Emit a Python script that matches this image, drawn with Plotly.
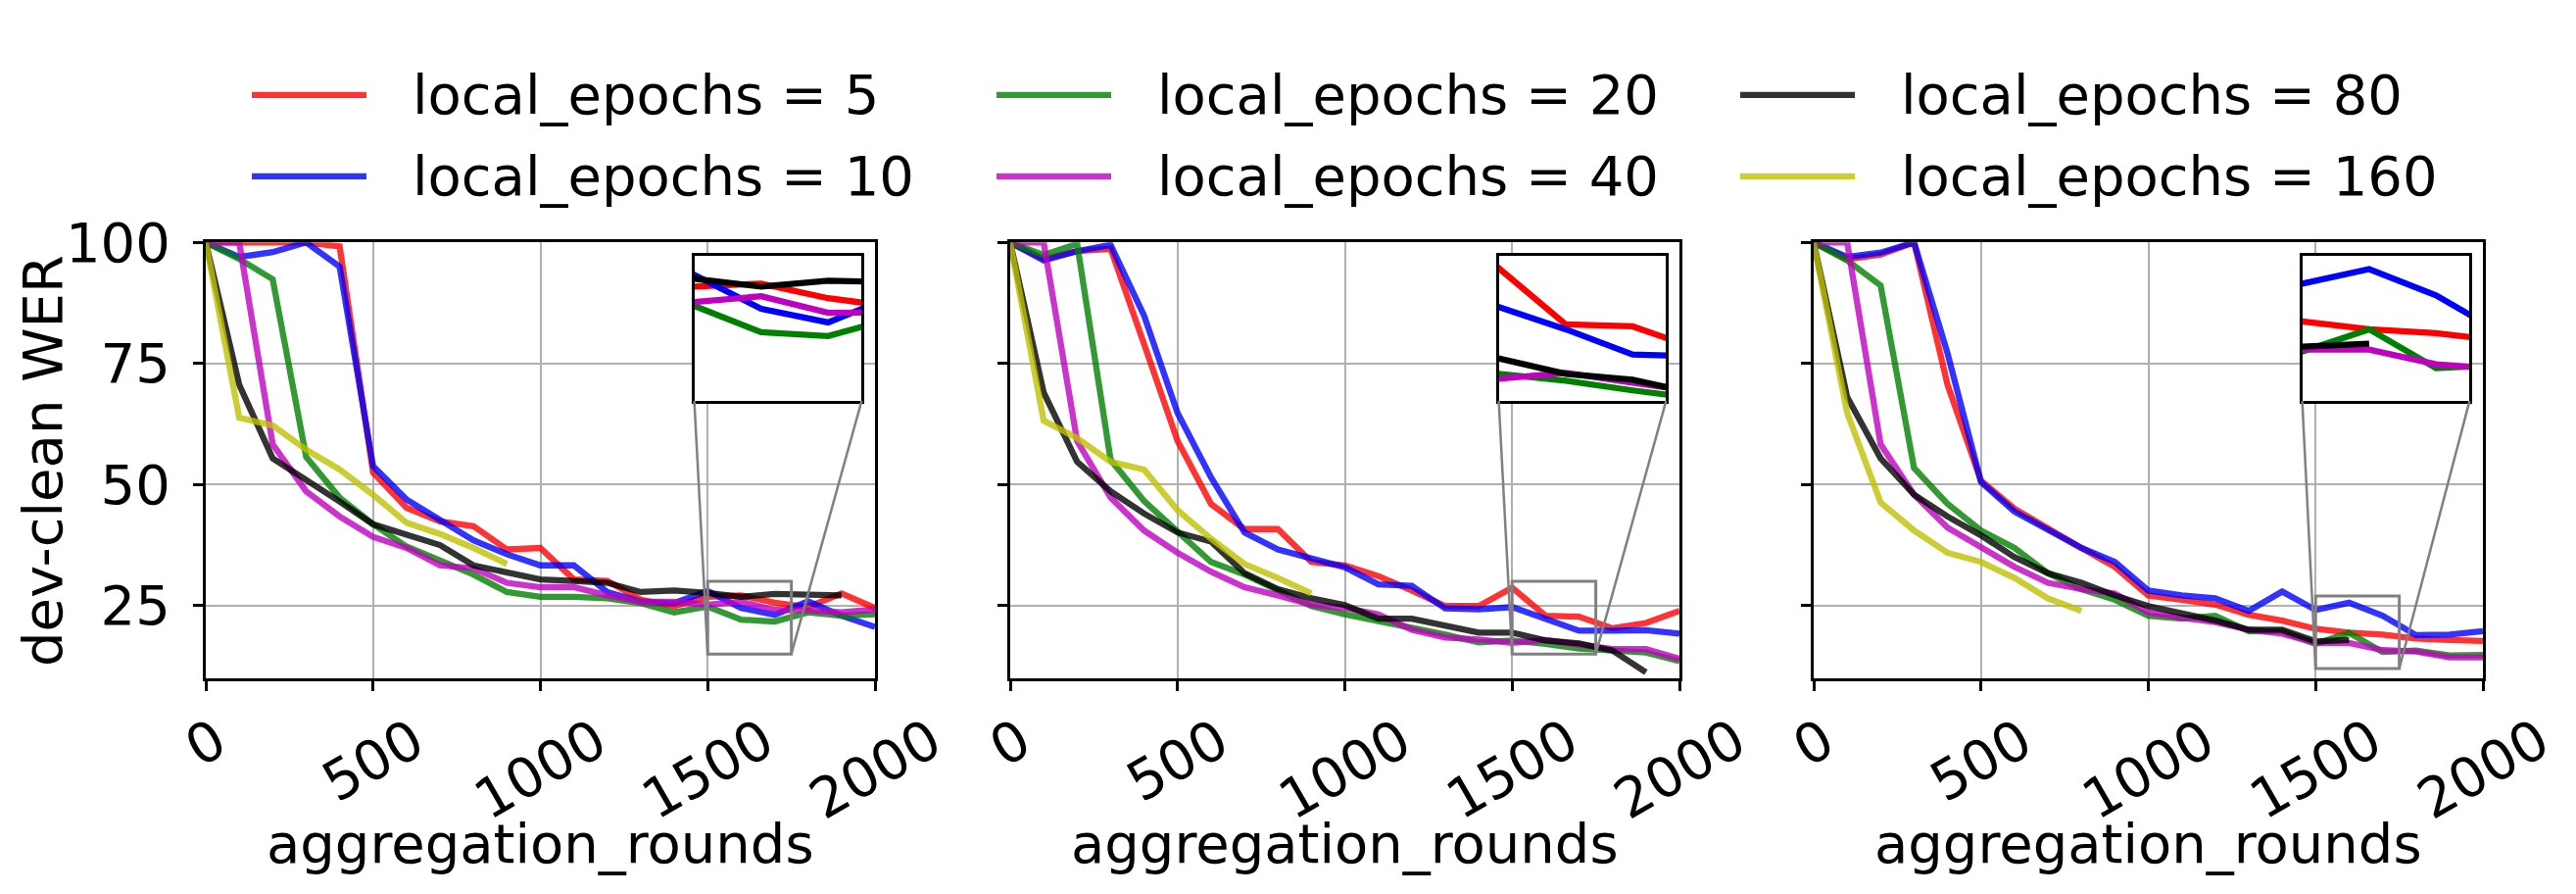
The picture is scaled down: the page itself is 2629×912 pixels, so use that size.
import plotly.graph_objects as go

# aggregation rounds, one point every 100 rounds
ROUNDS = list(range(0, 2001, 100))
EPOCHS = [5, 10, 20, 40, 80, 160]
RGB = ['255,0,0', '0,0,255', '0,128,0', '191,0,191', '0,0,0', '191,191,0']

# left panel
p1_e5 = [100, 100, 100, 100, 99.2, 52.5, 45.2, 42.4, 41.4, 36.6, 36.9, 30.4, 30.1, 26.2, 24.9, 26.8, 27.1, 25.6, 24.7, 27.5, 24.5]
p1_e10 = [100, 97, 98, 100, 95, 53.8, 46.9, 42.7, 38.5, 35.6, 33.3, 33.3, 27.8, 25.8, 25.5, 28.0, 24.5, 23.1, 25.9, 22.9, 20.6]
p1_e20 = [100, 96.6, 92.4, 55.7, 47.3, 41.8, 37.2, 34.3, 31.4, 27.8, 26.8, 26.8, 26.5, 25.5, 23.6, 24.8, 22.1, 21.7, 23.6, 22.9, 23.2]
p1_e40 = [100, 100, 58.3, 48.6, 43.4, 39.2, 36.9, 33.3, 32.7, 29.7, 28.8, 28.8, 27.1, 25.8, 25.8, 25.2, 25.8, 24.1, 24.0, 23.6, 24.2]
p1_e80 = [100, 70.6, 55.4, 51.0, 46.5, 41.8, 39.8, 37.5, 33.3, 31.7, 30.4, 30.1, 29.7, 27.8, 28.1, 27.6, 26.8, 27.4, 27.2, 27.1]
p1_e160 = [100, 63.8, 62.2, 57.2, 53.1, 47.9, 42.1, 39.8, 36.9, 33.6]

# middle panel
p2_e5 = [100, 96.6, 98.2, 98.7, 79, 59, 46, 40.8, 40.8, 34, 33.3, 31.1, 28.1, 24.9, 24.9, 28.7, 22.9, 22.7, 20.3, 21.4, 23.9]
p2_e10 = [100, 96.3, 98.2, 99.5, 84.9, 64.8, 51.5, 40.1, 36.6, 34.9, 32.9, 29.4, 29.1, 24.4, 24.2, 24.7, 22.4, 19.8, 19.8, 19.9, 19.2]
p2_e20 = [100, 97.4, 99.7, 55.1, 46.6, 40.1, 34, 31.4, 28.1, 24.9, 23.2, 21.9, 20.6, 19, 17.4, 17.8, 17.1, 16.1, 15.7, 15.3, 13.5]
p2_e40 = [100, 100, 59, 47.3, 40.5, 35.9, 32, 28.8, 27.1, 25.2, 24.5, 23.2, 20, 18.4, 18, 17.3, 17.9, 16.9, 16.0, 16, 14]
p2_e80 = [100, 69, 54.7, 48.6, 44, 40.1, 38.2, 31.7, 28.4, 26.5, 25.1, 22.3, 22.3, 21, 19.4, 19.4, 17.8, 17.2, 15.7, 11.2]
p2_e160 = [100, 63.2, 59.6, 54.7, 53.1, 44.7, 38.8, 33.6, 30.7, 27.5]

# right panel
p3_e5 = [100, 96.5, 97.5, 100, 70.6, 50.8, 45, 40.8, 36.9, 33, 27.1, 26.2, 25.2, 23.1, 21.9, 20.2, 19.4, 19, 18.2, 17.9, 17.7]
p3_e10 = [100, 97, 97.9, 100, 77.1, 50.5, 44.4, 40.5, 36.9, 34, 28.1, 27.1, 26.5, 23.9, 27.9, 24.1, 25.6, 22.9, 18.9, 19, 19.7]
p3_e20 = [100, 96.3, 91.1, 53.4, 46, 40.5, 36.9, 31.7, 28.4, 26.2, 22.9, 22.3, 22.9, 19.7, 19.7, 17.1, 19.4, 15.4, 15.7, 14.7, 14.8]
p3_e40 = [100, 100, 58.3, 47.9, 41.1, 36.9, 33, 29.7, 28.4, 27.5, 23.6, 22.5, 21.6, 20, 19.2, 17.3, 17.3, 15.8, 15.5, 14.3, 14.3]
p3_e80 = [100, 68.1, 55.4, 47.9, 43.4, 39.5, 35, 31.7, 29.7, 27.1, 24.9, 23.4, 21.9, 20, 20, 17.6, 17.9]
p3_e160 = [100, 64.8, 46.3, 40.5, 35.9, 34, 30.7, 26.5, 23.9]

panels = [
    [p1_e5, p1_e10, p1_e20, p1_e40, p1_e80, p1_e160],
    [p2_e5, p2_e10, p2_e20, p2_e40, p2_e80, p2_e160],
    [p3_e5, p3_e10, p3_e20, p3_e40, p3_e80, p3_e160],
]

X_TICKS = [0, 500, 1000, 1500, 2000]
Y_TICKS = [25, 50, 75, 100]
X_RANGE = [0, 2000]
Y_RANGE = [10, 100]
# zoomed region shown in each inset
ZOOM_X = [[1500, 1750], [1500, 1750], [1500, 1750]]
ZOOM_Y = [[15, 30], [15, 30], [12, 27]]

# the page body has an 8px margin all round; size the figure so the
# page fits the 2629x912 window exactly
OFF = 8
W, H = 2629 - 2 * OFF, 912 - 2 * OFF
FONT = "DejaVu Sans"
FS = 56
# target pixel positions in the 2629x912 window
PANEL_X = [(210, 893), (1031, 1714), (1851, 2534)]
PANEL_Y = (223, 684)
INSET_FX = (0.73, 0.98)
INSET_FY = (0.636, 0.97)
LW = 6.3


def px(x):
    return (x - OFF) / W


def py(y):
    return (H - (y - OFF)) / H


fig = go.Figure()
layout = dict(
    width=W, height=H,
    margin=dict(l=0, r=0, t=0, b=0),
    paper_bgcolor="white", plot_bgcolor="white",
    font=dict(family=FONT, size=FS, color="black"),
    showlegend=False,
)
shapes = []
annotations = []

y_dom = [py(PANEL_Y[1]), py(PANEL_Y[0])]

for p, series in enumerate(panels):
    n = p + 1
    m = p + 4
    sx = "" if n == 1 else str(n)
    x_dom = [px(PANEL_X[p][0]), px(PANEL_X[p][1])]
    wx = x_dom[1] - x_dom[0]
    wy = y_dom[1] - y_dom[0]

    layout["xaxis" + sx] = dict(
        domain=x_dom, range=X_RANGE, anchor="y" + sx,
        tickvals=X_TICKS, showticklabels=False,
        ticks="outside", ticklen=10, tickwidth=2.5, tickcolor="black",
        showline=True, mirror=True, linecolor="black", linewidth=3,
        showgrid=True, gridcolor="#b0b0b0", gridwidth=2, zeroline=False,
    )
    layout["yaxis" + sx] = dict(
        domain=y_dom, range=Y_RANGE, anchor="x" + sx,
        tickvals=Y_TICKS, showticklabels=(n == 1),
        ticks="outside", ticklen=10, tickwidth=2.5, tickcolor="black",
        ticklabelstandoff=12,
        showline=True, mirror=True, linecolor="black", linewidth=3,
        showgrid=True, gridcolor="#b0b0b0", gridwidth=2, zeroline=False,
    )
    layout["xaxis" + str(m)] = dict(
        domain=[x_dom[0] + wx * INSET_FX[0], x_dom[0] + wx * INSET_FX[1]],
        range=ZOOM_X[p], anchor="y" + str(m),
        showticklabels=False, ticks="", showgrid=False, zeroline=False,
        showline=True, mirror=True, linecolor="black", linewidth=3,
    )
    layout["yaxis" + str(m)] = dict(
        domain=[y_dom[0] + wy * INSET_FY[0], y_dom[0] + wy * INSET_FY[1]],
        range=ZOOM_Y[p], anchor="x" + str(m),
        showticklabels=False, ticks="", showgrid=False, zeroline=False,
        showline=True, mirror=True, linecolor="black", linewidth=3,
    )

    for vals, rgb in zip(series, RGB):
        fig.add_trace(go.Scatter(
            x=ROUNDS[:len(vals)], y=vals, mode="lines",
            line=dict(color="rgba(%s,0.8)" % rgb, width=LW),
            xaxis="x" + sx, yaxis="y" + sx, hoverinfo="skip",
        ))
    for vals, rgb in zip(series, RGB):
        fig.add_trace(go.Scatter(
            x=ROUNDS[:len(vals)], y=vals, mode="lines",
            line=dict(color="rgb(%s)" % rgb, width=LW),
            xaxis="x" + str(m), yaxis="y" + str(m), hoverinfo="skip",
        ))

    # zoomed region box
    shapes.append(dict(
        type="rect", xref="x" + sx, yref="y" + sx,
        x0=ZOOM_X[p][0], x1=ZOOM_X[p][1], y0=ZOOM_Y[p][0], y1=ZOOM_Y[p][1],
        line=dict(color="#808080", width=3),
    ))
    # connector lines from inset lower corners to box lower corners
    for fx, zx in zip(INSET_FX, ZOOM_X[p]):
        bx = (zx - X_RANGE[0]) / (X_RANGE[1] - X_RANGE[0])
        by = (ZOOM_Y[p][0] - Y_RANGE[0]) / (Y_RANGE[1] - Y_RANGE[0])
        shapes.append(dict(
            type="line", xref="x%s domain" % sx, yref="y%s domain" % sx,
            x0=fx, y0=INSET_FY[0], x1=bx, y1=by,
            line=dict(color="#808080", width=2.5),
        ))

    # rotated x tick labels centred on ticks
    for v in X_TICKS:
        annotations.append(dict(
            text=str(v), x=v, xref="x" + sx, y=0, yref="y%s domain" % sx,
            textangle=-30, xanchor="center", yanchor="top", yshift=-26,
            showarrow=False, font=dict(size=FS),
        ))
    annotations.append(dict(
        text="aggregation_rounds", x=0.5, xref="x%s domain" % sx,
        y=py(859), yref="paper", xanchor="center", yanchor="middle",
        showarrow=False, font=dict(size=FS),
    ))

annotations.append(dict(
    text="dev-clean WER", x=px(43), xref="paper", y=py(454), yref="paper",
    textangle=-90, xanchor="center", yanchor="middle",
    showarrow=False, font=dict(size=FS),
))

# legend: three columns of two rows
LEG_COL_X = [257, 1017, 1776]
LEG_ROW_Y = [67, 153]
for i, (ep, rgb) in enumerate(zip(EPOCHS, RGB)):
    cx = LEG_COL_X[i // 2]
    cy = py(LEG_ROW_Y[i % 2])
    shapes.append(dict(
        type="line", xref="paper", yref="paper",
        x0=px(cx), x1=px(cx + 117), y0=cy, y1=cy,
        line=dict(color="rgba(%s,0.8)" % rgb, width=LW),
    ))
    annotations.append(dict(
        text="local_epochs = %d" % ep, x=px(cx + 162), xref="paper",
        y=cy, yref="paper", xanchor="left", yanchor="middle",
        showarrow=False, font=dict(size=FS),
    ))

layout["shapes"] = shapes
layout["annotations"] = annotations
fig.update_layout(**layout)

fig.write_html("out.html")
